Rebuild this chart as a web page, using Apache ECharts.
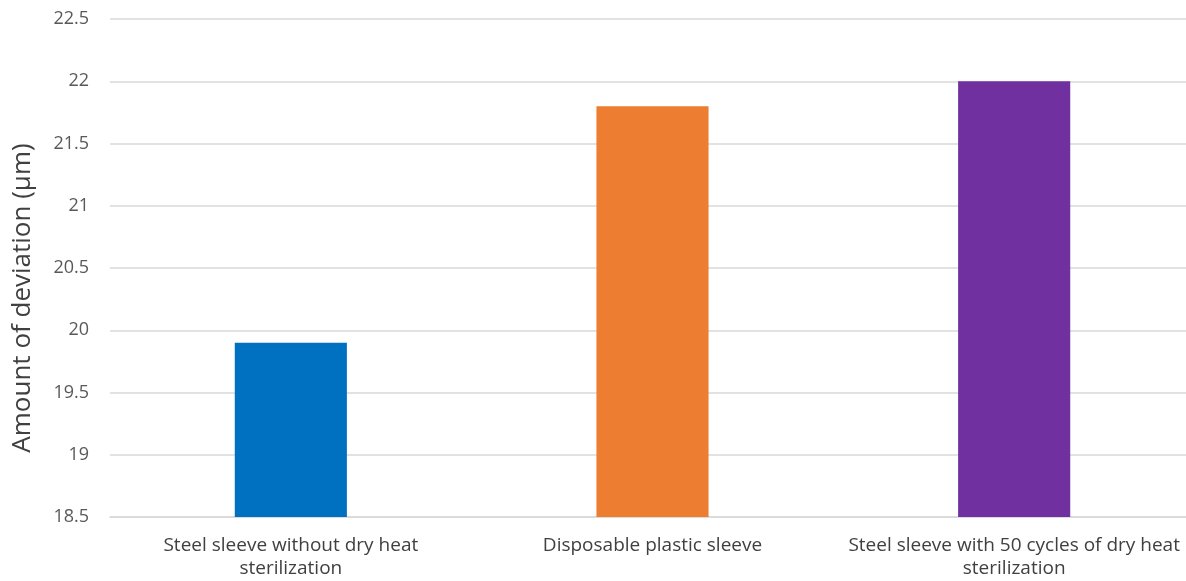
<!DOCTYPE html>
<html>
<head>
<meta charset="utf-8">
<script src="https://cdn.jsdelivr.net/npm/echarts@6/dist/echarts.min.js"></script>
<style>html,body{margin:0;padding:0;background:#fff}#c{width:1186px;height:581px}</style>
</head>
<body>
<div id="c"></div>
<script>
const categories = [
  'Steel sleeve without dry heat sterilization',
  'Disposable plastic sleeve',
  'Steel sleeve with 50 cycles of dry heat sterilization'
];
const values = [19.9, 21.8, 22.0];
const barColors = ['#0070C0', '#ED7D31', '#7030A0'];
const yTicks = { min: 18.5, max: 22.5, interval: 0.5 };
const yAxisTitle = 'Amount of deviation (\u03bcm)';

const chart = echarts.init(document.getElementById('c'));
chart.setOption({
  animation: false,
  grid: { left: 110, right: -9, top: 19, bottom: 64, containLabel: false, outerBoundsMode: 'none' },
  graphic: [{
    type: 'text',
    x: 23, y: 298,
    rotation: Math.PI / 2,
    style: {
      text: yAxisTitle,
      fill: '#404040',
      font: '26px "Open Sans"',
      textAlign: 'center',
      textVerticalAlign: 'middle'
    }
  }],
  xAxis: {
    type: 'category',
    data: categories,
    axisLine: { show: true, lineStyle: { color: '#d9d9d9', width: 1.5 } },
    axisTick: { show: false },
    axisLabel: {
      interval: 0, hideOverlap: false,
      color: '#404040', fontFamily: 'Open Sans', fontSize: 19, margin: 17, lineHeight: 23,
      formatter: v => v.replace(' sterilization', '\nsterilization')
    }
  },
  yAxis: {
    type: 'value',
    min: yTicks.min, max: yTicks.max, interval: yTicks.interval,
    axisLine: { show: false },
    axisTick: { show: false },
    splitLine: { lineStyle: { color: '#d9d9d9', width: 1.5 } },
    axisLabel: { color: '#595959', fontFamily: 'Open Sans', fontSize: 18, margin: 21,
      formatter: v => String(Math.round(v * 10) / 10) }
  },
  series: [{
    type: 'bar',
    barWidth: '31%',
    data: values.map((v, i) => ({ value: v, itemStyle: { color: barColors[i] } }))
  }]
});
</script>
</body>
</html>
